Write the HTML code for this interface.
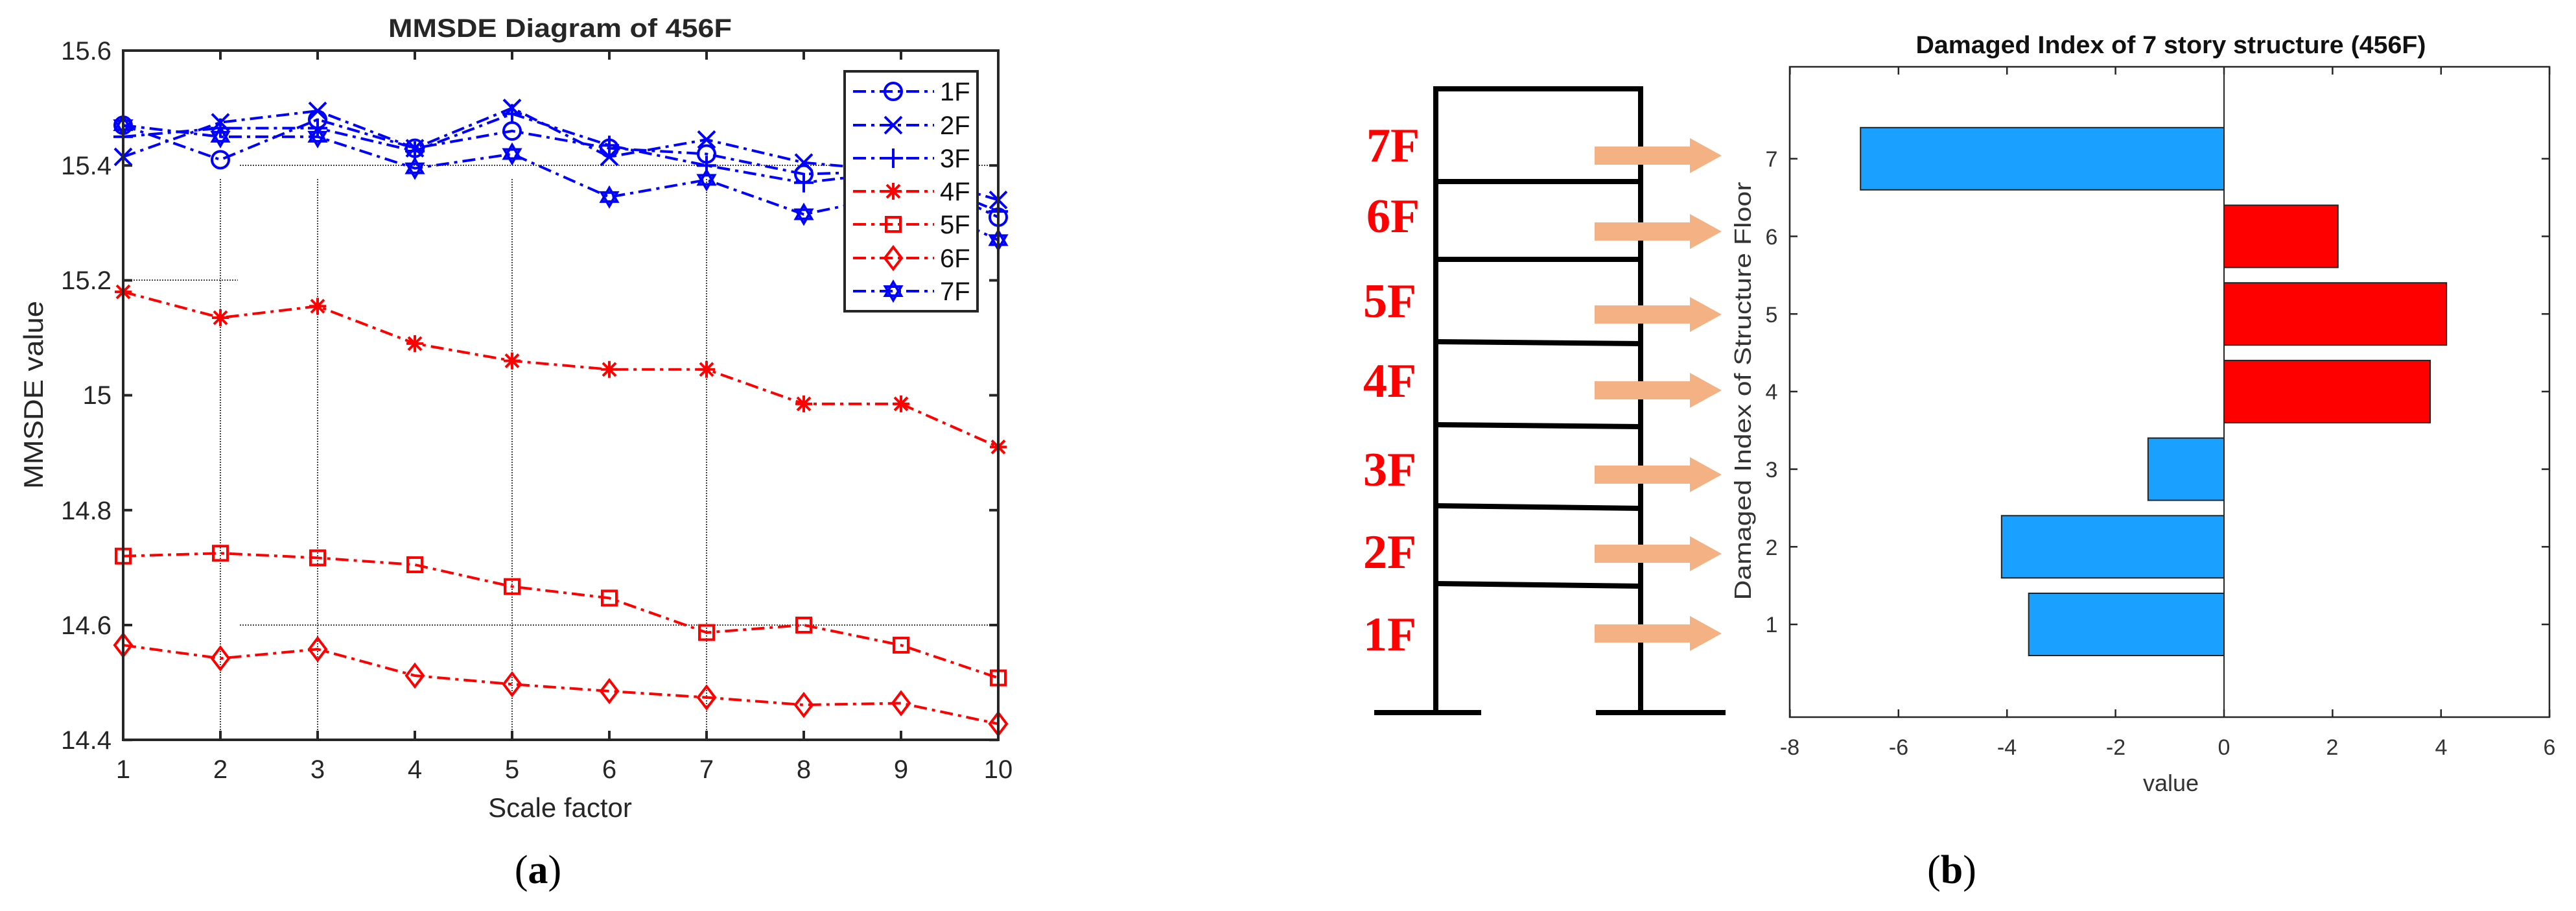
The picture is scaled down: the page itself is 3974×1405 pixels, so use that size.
<!DOCTYPE html>
<html><head><meta charset="utf-8"><style>
html,body{margin:0;padding:0;background:#fff;}
svg{display:block;}
text{font-family:"Liberation Sans",sans-serif;}
text.serif, .serif text{font-family:"Liberation Serif",serif;}
</style></head><body>
<svg id="s" width="3974" height="1405" viewBox="0 0 3974 1405" xmlns="http://www.w3.org/2000/svg">
<rect width="3974" height="1405" fill="#fff"/>
<!-- ===== Chart (a) ===== -->
<g id="gridA" stroke="#444" stroke-width="2" stroke-dasharray="2,2" fill="none">
<line x1="370" y1="255" x2="1540" y2="255"/>
<line x1="190" y1="432" x2="367" y2="432"/>
<line x1="370" y1="964" x2="1540" y2="964"/>
<line x1="340" y1="276" x2="340" y2="1141"/>
<line x1="490" y1="276" x2="490" y2="1141"/>
<line x1="790" y1="276" x2="790" y2="1141"/>
<line x1="1090" y1="276" x2="1090" y2="1141"/>
</g>
<g id="series"></g>
<rect x="190" y="78" width="1350" height="1063" fill="none" stroke="#262626" stroke-width="4"/>
<g id="ticksA" stroke="#262626" stroke-width="4"></g>
<g font-size="40" fill="#262626" text-anchor="end">
<text x="172" y="92">15.6</text>
<text x="172" y="269">15.4</text>
<text x="172" y="446">15.2</text>
<text x="172" y="623">15</text>
<text x="172" y="801">14.8</text>
<text x="172" y="978">14.6</text>
<text x="172" y="1155">14.4</text>
</g>
<g font-size="40" fill="#262626" text-anchor="middle">
<text x="190" y="1200">1</text><text x="340" y="1200">2</text><text x="490" y="1200">3</text>
<text x="640" y="1200">4</text><text x="790" y="1200">5</text><text x="940" y="1200">6</text>
<text x="1090" y="1200">7</text><text x="1240" y="1200">8</text><text x="1390" y="1200">9</text>
<text x="1540" y="1200">10</text>
<text x="864" y="1260" font-size="42">Scale factor</text>
<text x="864" y="57" font-size="40" font-weight="bold" textLength="530" lengthAdjust="spacingAndGlyphs">MMSDE Diagram of 456F</text>
<text transform="translate(66,609) rotate(-90)" font-size="42" textLength="290" lengthAdjust="spacingAndGlyphs">MMSDE value</text>
</g>
<rect x="1303" y="110" width="205" height="370" fill="#fff" stroke="#262626" stroke-width="4"/>
<g id="legend"></g>
<g font-size="40" fill="#111">
<text x="1450" y="155">1F</text><text x="1450" y="207">2F</text><text x="1450" y="258">3F</text>
<text x="1450" y="309">4F</text><text x="1450" y="360">5F</text><text x="1450" y="412">6F</text>
<text x="1450" y="463">7F</text>
</g>
<text class="serif" x="830" y="1362" font-size="62" text-anchor="middle" fill="#000">(<tspan font-weight="bold">a</tspan>)</text>

<!-- ===== Structure ===== -->
<g stroke="#000" stroke-width="8" fill="none">
<polyline points="2215,1099 2215,137 2531,137 2531,1099"/>
<line x1="2215" y1="280" x2="2531" y2="280"/>
<line x1="2215" y1="400" x2="2531" y2="400"/>
<line x1="2215" y1="527" x2="2531" y2="530"/>
<line x1="2215" y1="655" x2="2531" y2="658"/>
<line x1="2215" y1="780" x2="2531" y2="784"/>
<line x1="2215" y1="900" x2="2531" y2="904"/>
<line x1="2120" y1="1099" x2="2285" y2="1099"/>
<line x1="2462" y1="1099" x2="2662" y2="1099"/>
</g>
<g fill="#F4B183" id="arrows"></g>
<g class="serif" font-weight="bold" font-size="74" fill="#FF0000">
<text x="2108" y="249">7F</text>
<text x="2108" y="358">6F</text>
<text x="2103" y="489">5F</text>
<text x="2103" y="612">4F</text>
<text x="2103" y="749">3F</text>
<text x="2103" y="876">2F</text>
<text x="2103" y="1003">1F</text>
</g>

<!-- ===== Chart (b) ===== -->
<g id="bars" stroke="#222" stroke-width="2"></g>
<line x1="3431" y1="103" x2="3431" y2="1106" stroke="#262626" stroke-width="2"/>
<rect x="2761" y="103" width="1172" height="1003" fill="none" stroke="#262626" stroke-width="2.5"/>
<g id="ticksB" stroke="#262626" stroke-width="2.5"></g>
<g font-size="34" fill="#333" text-anchor="middle">
<text x="2761" y="1164">-8</text><text x="2929" y="1164">-6</text><text x="3096" y="1164">-4</text>
<text x="3264" y="1164">-2</text><text x="3431" y="1164">0</text><text x="3598" y="1164">2</text>
<text x="3766" y="1164">4</text><text x="3933" y="1164">6</text>
</g>
<g font-size="34" fill="#333" text-anchor="middle">
<text x="2733" y="257">7</text><text x="2733" y="377">6</text><text x="2733" y="497">5</text>
<text x="2733" y="616">4</text><text x="2733" y="736">3</text><text x="2733" y="856">2</text>
<text x="2733" y="975">1</text>
<text x="3349" y="1220" font-size="36">value</text>
<text x="3349" y="82" font-size="38" font-weight="bold" fill="#111" textLength="787" lengthAdjust="spacingAndGlyphs">Damaged Index of 7 story structure (456F)</text>
<text transform="translate(2701,603) rotate(-90)" font-size="36" textLength="645" lengthAdjust="spacingAndGlyphs">Damaged Index of Structure Floor</text>
</g>
<text class="serif" x="3011" y="1362" font-size="62" text-anchor="middle" fill="#000">(<tspan font-weight="bold">b</tspan>)</text>
</svg>
<script>
var NS="http://www.w3.org/2000/svg";
function el(p,t,a){var e=document.createElementNS(NS,t);for(var k in a)e.setAttribute(k,a[k]);p.appendChild(e);return e;}
var X=function(i){return 190+150*i;}, Y=function(v){return 78+(15.6-v)*886;};
var B="#0000FF",R="#FF0000";
var data=[
["o",B,[15.47,15.41,15.48,15.43,15.46,15.43,15.42,15.385,15.39,15.31]],
["x",B,[15.415,15.475,15.495,15.43,15.5,15.415,15.445,15.405,15.39,15.34]],
["+",B,[15.45,15.465,15.465,15.425,15.49,15.435,15.40,15.37,15.39,15.32]],
["*",R,[15.18,15.135,15.155,15.09,15.06,15.045,15.045,14.985,14.985,14.91]],
["s",R,[14.72,14.725,14.717,14.705,14.667,14.647,14.587,14.6,14.565,14.508]],
["d",R,[14.565,14.542,14.558,14.512,14.497,14.485,14.474,14.461,14.464,14.428]],
["h",B,[15.47,15.45,15.45,15.395,15.42,15.345,15.375,15.315,15.35,15.27]]];
function marker(g,m,x,y,c){var a={fill:"none",stroke:c,"stroke-width":4};var r=13;
 if(m=="o")el(g,"circle",Object.assign({cx:x,cy:y,r:r},a));
 else if(m=="x")el(g,"path",Object.assign({d:"M"+(x-r)+","+(y-r)+"L"+(x+r)+","+(y+r)+"M"+(x-r)+","+(y+r)+"L"+(x+r)+","+(y-r)},a));
 else if(m=="+")el(g,"path",Object.assign({d:"M"+(x-r-2)+","+y+"H"+(x+r+2)+"M"+x+","+(y-r-2)+"V"+(y+r+2)},a));
 else if(m=="*")el(g,"path",Object.assign({d:"M"+(x-r)+","+y+"H"+(x+r)+"M"+x+","+(y-r)+"V"+(y+r)+"M"+(x-10)+","+(y-10)+"L"+(x+10)+","+(y+10)+"M"+(x-10)+","+(y+10)+"L"+(x+10)+","+(y-10)},a));
 else if(m=="s")el(g,"rect",Object.assign({x:x-11,y:y-11,width:22,height:22},a));
 else if(m=="d")el(g,"path",Object.assign({d:"M"+x+","+(y-17)+"L"+(x+13)+","+y+"L"+x+","+(y+17)+"L"+(x-13)+","+y+"Z"},a));
 else if(m=="h"){var p1=[],p2=[];for(var i=0;i<3;i++){var t=-Math.PI/2+i*2*Math.PI/3;p1.push((x+14*Math.cos(t))+","+(y+14*Math.sin(t)));t+=Math.PI;p2.push((x+14*Math.cos(t))+","+(y+14*Math.sin(t)));}
  el(g,"polygon",Object.assign({points:p1.join(" ")},a));el(g,"polygon",Object.assign({points:p2.join(" ")},a));}}
var sg=document.getElementById("series");
data.forEach(function(s){var pts=s[2].map(function(v,i){return X(i)+","+Y(v);}).join(" ");
 el(sg,"polyline",{points:pts,fill:"none",stroke:s[1],"stroke-width":4,"stroke-dasharray":"20,8,5,8"});
 s[2].forEach(function(v,i){marker(sg,s[0],X(i),Y(v),s[1]);});});
var lg=document.getElementById("legend");var ly=[141,193,244,295,346,398,449];
data.forEach(function(s,i){el(lg,"line",{x1:1316,y1:ly[i],x2:1441,y2:ly[i],stroke:s[1],"stroke-width":4,"stroke-dasharray":"20,8,5,8"});marker(lg,s[0],1378,ly[i],s[1]);});
var ta=document.getElementById("ticksA");
for(var i=0;i<10;i++){el(ta,"line",{x1:X(i),y1:78,x2:X(i),y2:92});el(ta,"line",{x1:X(i),y1:1141,x2:X(i),y2:1127});}
for(var j=0;j<7;j++){var y=78+j*177.2;el(ta,"line",{x1:190,y1:y,x2:204,y2:y});el(ta,"line",{x1:1540,y1:y,x2:1526,y2:y});}
var ag=document.getElementById("arrows");[240,357,485,602,732,854,977].forEach(function(y){
 el(ag,"polygon",{points:"2460,"+(y-14)+" 2607,"+(y-14)+" 2607,"+(y-27)+" 2656,"+y+" 2607,"+(y+27)+" 2607,"+(y+14)+" 2460,"+(y+14)});});
var bg=document.getElementById("bars");var vals=[-3.6,-4.1,-1.4,3.8,4.1,2.1,-6.7];var ux=83.7,uy=119.7,x0=3431;
vals.forEach(function(v,i){var yc=963-i*uy;var xa=x0+Math.min(0,v)*ux;
 el(bg,"rect",{x:xa,y:yc-48,width:Math.abs(v)*ux,height:96,fill:v<0?"#1AA0FF":"#FF0000"});});
var tb=document.getElementById("ticksB");
for(var k=-8;k<=6;k+=2){var xx=x0+k*ux;el(tb,"line",{x1:xx,y1:1106,x2:xx,y2:1094});el(tb,"line",{x1:xx,y1:103,x2:xx,y2:115});}
for(var k=1;k<=7;k++){var yy=963-(k-1)*uy;el(tb,"line",{x1:2761,y1:yy,x2:2773,y2:yy});el(tb,"line",{x1:3933,y1:yy,x2:3921,y2:yy});}
</script>
</body></html>
